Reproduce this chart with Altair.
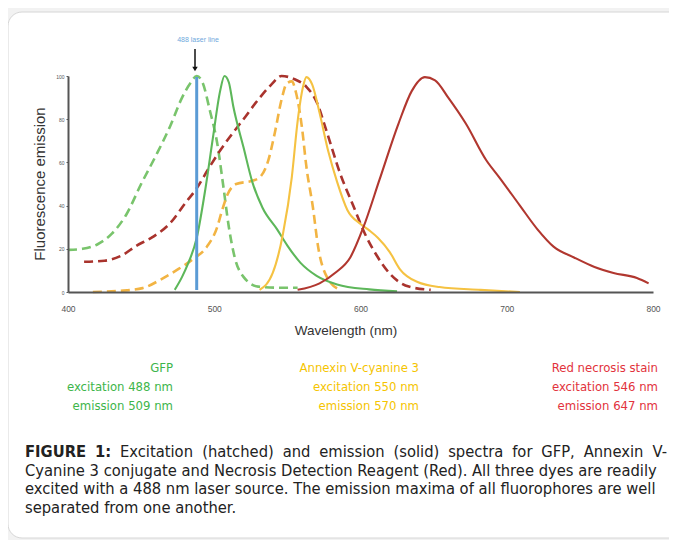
import altair as alt
import pandas as pd

# ---------------- data ----------------
gfp_ex_wl = [400, 410, 420, 430, 440, 450, 460, 470, 478, 484, 488, 492, 497, 502, 506, 510, 514, 520, 530, 545, 557]
gfp_ex_val = [19.5, 20, 22, 27, 36, 50, 63, 77, 90, 97, 100, 97, 84, 69, 50, 30, 16, 7, 2.5, 2, 2]

gfp_em_wl = [473, 478, 482, 488, 494, 499, 504, 507, 510, 513, 520, 526, 533, 543, 550, 559, 570, 584, 606, 625]
gfp_em_val = [1, 7, 13, 25, 48, 71, 93, 100, 97, 86, 67, 51, 39, 29, 21.5, 13.5, 7.5, 3.5, 1.2, 0.3]

cy3_ex_wl = [417, 435, 451, 463, 474, 485, 495, 502, 505, 509, 515, 526, 531, 537, 541.5, 546, 549.5, 553, 556, 560, 563, 567.5, 571, 577, 586]
cy3_ex_val = [0, 0.5, 1.8, 5.6, 10, 15, 21, 30, 37, 45, 50, 51.5, 53, 61, 74, 89, 96.5, 97.5, 92, 76, 58, 39, 21, 7, 1]

cy3_em_wl = [531, 540, 547, 553, 557, 560.7, 563, 567, 572, 578, 584, 591, 600, 606, 612, 620, 627, 639, 654, 682, 709]
cy3_em_val = [1, 8.8, 27, 53, 79, 95, 99.5, 96, 83, 65, 51, 38, 31.5, 28.5, 25, 18.5, 10.5, 4.6, 2.3, 1, 0]

red_ex_wl = [411, 425, 437, 447, 458, 470, 480, 488, 496, 504, 512, 520, 530, 539, 546, 555, 563, 570, 577, 586, 595, 603, 611, 620, 633, 648]
red_ex_val = [14, 14.5, 17, 21.5, 25.5, 32, 41, 48, 57, 65.5, 73, 80, 89, 96, 100, 98.5, 95, 88, 74, 55, 40, 27, 17, 8.5, 2.5, 1]

red_em_wl = [557, 572, 583, 593, 602, 613, 626, 635, 644, 651, 660, 672, 686, 695, 709, 721, 732, 746, 760, 773, 789, 797]
red_em_val = [1, 4, 9, 16, 30, 52, 78, 93, 99.5, 98, 90, 78, 61, 53, 40, 29, 21, 16, 11.6, 8.8, 6.5, 4]

laser_wl = [488]
x_ticks = [400, 500, 600, 700, 800]
y_ticks = [0, 20, 40, 60, 80, 100]

legend_titles = ["GFP", "Annexin V-cyanine 3", "Red necrosis stain"]
legend_exc = ["excitation 488 nm", "excitation 550 nm", "excitation 546 nm"]
legend_em = ["emission 509 nm", "emission 570 nm", "emission 647 nm"]

caption_line1 = ["FIGURE", "1:", "Excitation", "(hatched)", "and", "emission", "(solid)",
                 "spectra", "for", "GFP,", "Annexin", "V-"]
caption_rest = [
    "Cyanine 3 conjugate and Necrosis Detection Reagent (Red).  All three dyes are readily",
    "excited with a 488 nm laser source.  The emission maxima of all fluorophores are well",
    "separated from one another.",
]

# ---------------- layout / style ----------------
FONT = "DejaVu Sans Condensed, Liberation Sans Narrow, Roboto, sans-serif"
FONT2 = "Liberation Sans, Arial, sans-serif"
W, H = 585, 216
OX, OY = 68, 76  # page position of the plot origin
CAP_FS = 16.4


def px(x):
    return x - OX


def py(y):
    return y - OY


# approximate glyph advance widths (em) of DejaVu Sans, used to justify caption line 1
REG = {"a": .613, "c": .55, "d": .635, "e": .615, "f": .352, "h": .634, "i": .278, "l": .278,
       "m": .974, "n": .634, "o": .612, "p": .635, "r": .411, "s": .521, "t": .392, "x": .592,
       "(": .39, ")": .39, ",": .318, ":": .337, "-": .361, "A": .684, "E": .632, "G": .775,
       "P": .603, "V": .684, "F": .575}
BOLD = {"F": .683, "I": .372, "G": .821, "U": .812, "R": .77, "E": .683, "1": .696, ":": .4}


def text_w(word, bold, fs):
    tab = BOLD if bold else REG
    return sum(tab.get(ch, .6) for ch in word) * 0.9 * fs


xs = alt.Scale(domain=[400, 800], nice=False, zero=False)
ys = alt.Scale(domain=[0, 100], nice=False, zero=True)
xaxis = alt.Axis(values=x_ticks, title=None, grid=False, ticks=False, domainColor="#555555",
                 domainWidth=2, labelFontSize=8.5, labelColor="#555555", labelPadding=12,
                 labelFlush=False, labelFont=FONT2, zindex=1)
yaxis = alt.Axis(values=y_ticks, title=None, grid=False, tickSize=2, tickColor="#555555",
                 domainColor="#555555", domainWidth=2, labelFontSize=5, labelColor="#555555",
                 labelPadding=2, labelFont=FONT2, zindex=1)

dummy = pd.DataFrame({"a": [0]})
layers = []

# card
layers.append(alt.Chart(dummy).mark_rect(color="white", stroke="#d6d6d6", strokeWidth=1,
                                         cornerRadius=14).encode(
    x=alt.value(px(8)), x2=alt.value(px(720)), y=alt.value(py(12)), y2=alt.value(py(538))))


def curve(wl, val, color, dashed):
    df = pd.DataFrame({"wl": wl, "val": val})
    kw = dict(color=color, strokeWidth=2.6 if dashed else 2.1, interpolate="monotone")
    if dashed:
        kw["strokeDash"] = [9, 5]
    return alt.Chart(df).mark_line(**kw).encode(
        x=alt.X("wl:Q", scale=xs, axis=xaxis),
        y=alt.Y("val:Q", scale=ys, axis=yaxis))


layers += [
    curve(gfp_ex_wl, gfp_ex_val, "#79C46C", True),
    curve(red_ex_wl, red_ex_val, "#A9332D", True),
    curve(cy3_ex_wl, cy3_ex_val, "#F2B443", True),
    curve(gfp_em_wl, gfp_em_val, "#5DB75A", False),
    curve(cy3_em_wl, cy3_em_val, "#F5C242", False),
    curve(red_em_wl, red_em_val, "#B1372F", False),
]

# laser line
layers.append(alt.Chart(pd.DataFrame({"wl": laser_wl})).mark_rule(color="#5B9BD5", strokeWidth=3).encode(
    x=alt.X("wl:Q", scale=xs, axis=xaxis), y=alt.value(py(77)), y2=alt.value(py(290))))
layers.append(alt.Chart(dummy).mark_rule(color="#111111", strokeWidth=1.5).encode(
    x=alt.value(px(195)), y=alt.value(py(49)), y2=alt.value(py(68))))
layers.append(alt.Chart(dummy).mark_point(shape="triangle-down", filled=True, color="#111111",
                                          size=30, opacity=1).encode(
    x=alt.value(px(195)), y=alt.value(py(69))))
layers.append(alt.Chart(dummy).mark_text(text="488 laser line", font=FONT2, fontSize=7,
                                         color="#6FA8DC", align="center", baseline="middle").encode(
    x=alt.value(px(198)), y=alt.value(py(40))))

# axis titles
layers.append(alt.Chart(dummy).mark_text(text="Wavelength (nm)", font=FONT2, fontSize=13.5,
                                         color="#333333", align="center", baseline="middle").encode(
    x=alt.value(px(346)), y=alt.value(py(331))))
layers.append(alt.Chart(dummy).mark_text(text="Fluorescence emission", font=FONT2, fontSize=15,
                                         color="#333333", align="center", baseline="middle",
                                         angle=270).encode(
    x=alt.value(px(40)), y=alt.value(py(184))))

# dye legends
leg_colors = ["#3DB54A", "#F5C400", "#E2323C"]
leg_right = [173, 419, 658]
for i in range(3):
    for j, txt in enumerate([legend_titles[i], legend_exc[i], legend_em[i]]):
        layers.append(alt.Chart(dummy).mark_text(text=txt, font=FONT, fontSize=13,
                                                 color=leg_colors[i], align="right",
                                                 baseline="middle").encode(
            x=alt.value(px(leg_right[i])), y=alt.value(py(368 + 19 * j))))

# caption, first line justified between x=25 and x=668
widths = [text_w(w, k < 2, CAP_FS) for k, w in enumerate(caption_line1)]
gap = (668 - 25 - sum(widths)) / (len(widths) - 1)
xpos = 25.0
for k, word in enumerate(caption_line1):
    layers.append(alt.Chart(dummy).mark_text(text=word, font=FONT, fontSize=CAP_FS,
                                             fontWeight="bold" if k < 2 else "normal",
                                             color="#222222", align="left",
                                             baseline="middle").encode(
        x=alt.value(px(xpos)), y=alt.value(py(452))))
    xpos += widths[k] + gap
for j, line in enumerate(caption_rest):
    layers.append(alt.Chart(dummy).mark_text(text=line, font=FONT, fontSize=CAP_FS, color="#222222",
                                             align="left", baseline="middle").encode(
        x=alt.value(px(25)), y=alt.value(py(470.5 + 18.5 * j))))

chart = alt.layer(*layers).properties(
    width=W, height=H,
    autosize=alt.AutoSizeParams(type="none"),
    padding={"left": OX - 8, "top": OY - 8, "right": 679 - 8 - OX - W - 2, "bottom": 540 - OY - H},
    background="#f2f2f2",
).configure_view(stroke=None)

chart.save("out.html", embed_options={"renderer": "svg", "actions": False})
